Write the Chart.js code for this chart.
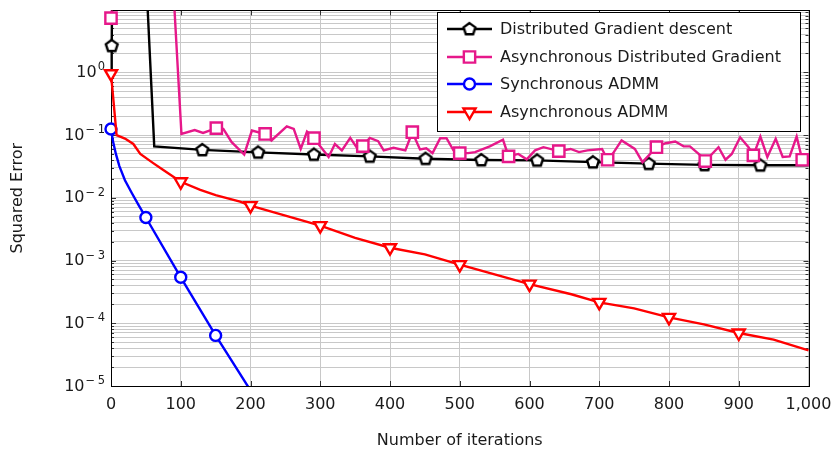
<!DOCTYPE html>
<html>
<head>
<meta charset="utf-8">
<script src="https://cdn.jsdelivr.net/npm/chart.js@4.4.1/dist/chart.umd.min.js"></script>
<style>
  html, body { margin: 0; padding: 0; background: #fff; }
</style>
</head>
<body>
<canvas id="chartError" width="834" height="450"></canvas>
<script>
// valores
const gdX = [0, 1, 2, 50, 62, 131, 211, 291, 371, 451, 531, 611, 691, 771, 851, 931, 1000];
const gdY = [0.9, 2.65, 40, 40, 0.066, 0.058, 0.053, 0.049, 0.0457, 0.042, 0.040, 0.0395, 0.037, 0.035, 0.0335, 0.033, 0.033];
const gdMarks = [1, 131, 211, 291, 371, 451, 531, 611, 691, 771, 851, 931];

const agdX = [0, 1, 88, 101, 120, 132, 151, 161, 173, 191, 202, 221, 230, 252, 262, 272, 281, 291,
  312, 321, 331, 343, 352, 361, 371, 383, 391, 405, 422, 432, 443, 452, 461, 472, 481, 491, 500,
  512, 522, 543, 562, 570, 584, 596, 608, 620, 642, 659, 671, 683, 704, 712, 720, 732, 751, 762,
  782, 795, 809, 821, 830, 845, 852, 871, 881, 890, 902, 914, 921, 931, 941, 953, 963, 973, 983, 991, 1000];
const agdY = [7.3, 40, 40, 0.104, 0.12, 0.108, 0.129, 0.125, 0.077, 0.049, 0.118, 0.104, 0.082, 0.138, 0.125, 0.060, 0.113, 0.089,
  0.0447, 0.072, 0.057, 0.090, 0.064, 0.0665, 0.090, 0.080, 0.057, 0.0625, 0.057, 0.111, 0.059, 0.0617, 0.0515, 0.089, 0.089, 0.057, 0.0515,
  0.0515, 0.0535, 0.066, 0.084, 0.0457, 0.050, 0.041, 0.057, 0.064, 0.0555, 0.060, 0.0535, 0.057, 0.060, 0.0404, 0.0515, 0.082, 0.060, 0.037,
  0.064, 0.074, 0.079, 0.066, 0.066, 0.0474, 0.0385, 0.064, 0.0404, 0.050, 0.092, 0.064, 0.0474, 0.0946, 0.0447, 0.087, 0.0447, 0.0457, 0.0946, 0.0404, 0.0404];
const agdMarks = [0, 151, 221, 291, 361, 432, 500, 570, 642, 712, 782, 852, 921, 991];

const admmX = [0, 3, 7, 12, 20, 30, 40, 50, 100, 150, 200];
const admmY = [0.125, 0.078, 0.05, 0.032, 0.019, 0.0118, 0.0075, 0.00485, 0.00054, 0.000064, 0.0000085];
const admmMarks = [0, 50, 100, 150];

const aadmmX = [0, 8, 20, 32, 42, 60, 75, 100, 128, 150, 185, 200, 250, 300, 350, 400, 450, 500,
  550, 600, 660, 700, 750, 800, 850, 900, 950, 1000];
const aadmmY = [0.95, 0.10, 0.088, 0.072, 0.050, 0.036, 0.0277, 0.018, 0.0134, 0.011, 0.0087, 0.0075, 0.0052, 0.0036, 0.0023, 0.0016, 0.00125, 0.00086,
  0.0006, 0.00042, 0.00029, 0.000215, 0.000173, 0.000124, 0.000096, 0.00007, 0.000055, 0.000037];
const aadmmMarks = [0, 100, 200, 300, 400, 500, 600, 700, 800, 900];

const seriesNames = ["Distributed Gradient descent", "Asynchronous Distributed Gradient", "Synchronous ADMM", "Asynchronous ADMM"];

const xTickValues = [0, 100, 200, 300, 400, 500, 600, 700, 800, 900, 1000];
const xTickLabels = ["0", "100", "200", "300", "400", "500", "600", "700", "800", "900", "1,000"];
const yMajorValues = [1e-5, 1e-4, 1e-3, 1e-2, 1e-1, 1];
const yTickExps = ["5", "4", "3", "2", "1", "0"];
const yTickNeg = [true, true, true, true, true, false];
const yMin = 1e-5;
const yMax = 9.7;

// lineas de la grilla: 1..9 por decada
const yGridValues = [];
yMajorValues.forEach(p => {
    for (let k = 1; k <= 9; k++) {
        const v = p * k;
        if (v <= yMax) yGridValues.push(v);
    }
});

const textColor = "#1a1a1a";
const gridColor = "#c8c8c8";
const lineW = 2.4;

Chart.defaults.font.family = "'DejaVu Sans', sans-serif";
Chart.defaults.font.size = 16;
Chart.defaults.color = textColor;

// marcador pentagono
function crearPentagono() {
    const c = document.createElement("canvas");
    c.width = 18;
    c.height = 18;
    const g = c.getContext("2d");
    const r = 6.2;
    g.beginPath();
    for (let i = 0; i < 5; i++) {
        const a = -Math.PI / 2 + i * 2 * Math.PI / 5;
        const px = 9 + r * Math.cos(a);
        const py = 9.3 + r * Math.sin(a);
        if (i === 0) g.moveTo(px, py); else g.lineTo(px, py);
    }
    g.closePath();
    g.fillStyle = "#fff";
    g.fill();
    g.lineWidth = lineW;
    g.lineJoin = "miter";
    g.strokeStyle = "#000";
    g.stroke();
    return c;
}
const pentagono = crearPentagono();

function puntos(xs, ys) {
    return xs.map((x, i) => ({ x: x, y: ys[i] }));
}

function radioMarca(marks, r) {
    return ctx => (ctx.raw && marks.includes(ctx.raw.x)) ? r : 0;
}

function serie(label, xs, ys, marks, color, style, r, rot, order) {
    return {
        label: label,
        data: puntos(xs, ys),
        borderColor: color,
        borderWidth: lineW,
        pointStyle: style,
        pointRotation: rot,
        pointRadius: radioMarca(marks, r),
        pointBackgroundColor: "#fff",
        pointBorderColor: color,
        pointBorderWidth: lineW,
        tension: 0,
        order: order,
        clip: { left: 12, right: 12, top: 0, bottom: 0 }
    };
}

const markerSizes = [7, 8, 5.5, 7];
const datasets = [
    serie(seriesNames[0], gdX, gdY, gdMarks, "#000000", pentagono, markerSizes[0], 0, 4),
    serie(seriesNames[1], agdX, agdY, agdMarks, "#e6188a", "rect", markerSizes[1], 0, 3),
    serie(seriesNames[2], admmX, admmY, admmMarks, "#0000ff", "circle", markerSizes[2], 0, 2),
    serie(seriesNames[3], aadmmX, aadmmY, aadmmMarks, "#ff0000", "triangle", markerSizes[3], 180, 1)
];

// marco, marcas interiores y etiquetas 10^n del eje y
const marcoPlugin = {
    id: "marco",
    beforeDatasetsDraw(chart) {
        const { ctx, chartArea: a } = chart;
        const xs = chart.scales.x, ys = chart.scales.y;
        ctx.save();
        ctx.strokeStyle = "#333";
        ctx.lineWidth = 1;
        ctx.beginPath();
        yGridValues.forEach(v => {
            const py = Math.round(ys.getPixelForValue(v)) + 0.5;
            const len = yMajorValues.some(m => Math.abs(m - v) / m < 1e-6) ? 5 : 3;
            ctx.moveTo(a.left, py); ctx.lineTo(a.left + len, py);
            ctx.moveTo(a.right, py); ctx.lineTo(a.right - len, py);
        });
        xTickValues.forEach(v => {
            const px = Math.round(xs.getPixelForValue(v)) + 0.5;
            ctx.moveTo(px, a.bottom); ctx.lineTo(px, a.bottom - 5);
            ctx.moveTo(px, a.top); ctx.lineTo(px, a.top + 5);
        });
        ctx.stroke();
        ctx.strokeStyle = "#000";
        ctx.strokeRect(Math.round(a.left) + 0.5, Math.round(a.top) + 0.5,
            Math.round(a.right - a.left), Math.round(a.bottom - a.top));

        // etiquetas con exponente
        ctx.fillStyle = textColor;
        ctx.textBaseline = "middle";
        ctx.textAlign = "right";
        yMajorValues.forEach((v, i) => {
            const py = ys.getPixelForValue(v);
            let xr = a.left - 6;
            ctx.font = "11.5px 'DejaVu Sans', sans-serif";
            ctx.fillText(yTickExps[i], xr, py - 5);
            xr -= ctx.measureText(yTickExps[i]).width;
            if (yTickNeg[i]) {
                xr -= 2.5;
                ctx.fillText("\u2212", xr, py - 5);
                xr -= ctx.measureText("\u2212").width;
            }
            xr -= 1;
            ctx.font = "16px 'DejaVu Sans', sans-serif";
            ctx.fillText("10", xr, py + 0.5);
        });
        ctx.restore();
    }
};

// leyenda dentro del area del grafico
const leyendaPlugin = {
    id: "leyenda",
    afterDatasetsDraw(chart) {
        const ctx = chart.ctx;
        const bx = 437.5, by = 12.5, bw = 363, bh = 119;
        ctx.save();
        ctx.fillStyle = "#fff";
        ctx.fillRect(bx, by, bw, bh);
        ctx.strokeStyle = "#000";
        ctx.lineWidth = 1;
        ctx.strokeRect(bx, by, bw, bh);
        const filas = [29, 57, 84, 112];
        chart.data.datasets.forEach((ds, i) => {
            const y = filas[i];
            ctx.strokeStyle = ds.borderColor;
            ctx.lineWidth = lineW;
            ctx.beginPath();
            ctx.moveTo(447, y);
            ctx.lineTo(492, y);
            ctx.stroke();
            ctx.fillStyle = "#fff";
            ctx.strokeStyle = ds.borderColor;
            Chart.helpers.drawPoint(ctx, {
                pointStyle: ds.pointStyle,
                rotation: ds.pointRotation,
                radius: markerSizes[i],
                borderWidth: lineW
            }, 469.5, y);
            ctx.fillStyle = textColor;
            ctx.font = "16px 'DejaVu Sans', sans-serif";
            ctx.textBaseline = "middle";
            ctx.textAlign = "left";
            ctx.fillText(ds.label, 500, y + 1);
        });
        ctx.restore();
    }
};

new Chart(document.getElementById("chartError").getContext("2d"), {
    type: "line",
    data: { datasets: datasets },
    options: {
        responsive: false,
        animation: false,
        events: [],
        layout: { padding: { left: 0, right: 25.5, top: 7, bottom: 0 } },
        plugins: {
            legend: { display: false },
            tooltip: { enabled: false }
        },
        scales: {
            x: {
                type: "linear",
                min: 0,
                max: 1000,
                afterBuildTicks: s => { s.ticks = xTickValues.map(v => ({ value: v })); },
                afterFit: s => { s.height = 64; s.paddingLeft = 0; s.paddingRight = 0; },
                ticks: {
                    autoSkip: false,
                    maxRotation: 0,
                    padding: 9,
                    color: textColor,
                    callback: (v, i) => xTickLabels[i]
                },
                grid: { color: gridColor, drawTicks: false, lineWidth: 1 },
                border: { color: "#000", width: 1 },
                title: { display: true, text: "Number of iterations", color: textColor, padding: { top: 0, bottom: 0 } }
            },
            y: {
                type: "logarithmic",
                min: yMin,
                max: yMax,
                afterBuildTicks: s => { s.ticks = yGridValues.map(v => ({ value: v })); },
                afterFit: s => { s.width = 111; s.paddingTop = 0; s.paddingBottom = 0; },
                ticks: {
                    autoSkip: false,
                    padding: 6,
                    display: false
                },
                grid: { color: gridColor, drawTicks: false, lineWidth: 1 },
                border: { color: "#000", width: 1 },
                title: { display: true, text: "Squared Error", color: textColor, padding: { top: 8, bottom: 0 } }
            }
        }
    },
    plugins: [marcoPlugin, leyendaPlugin]
});
</script>
</body>
</html>
